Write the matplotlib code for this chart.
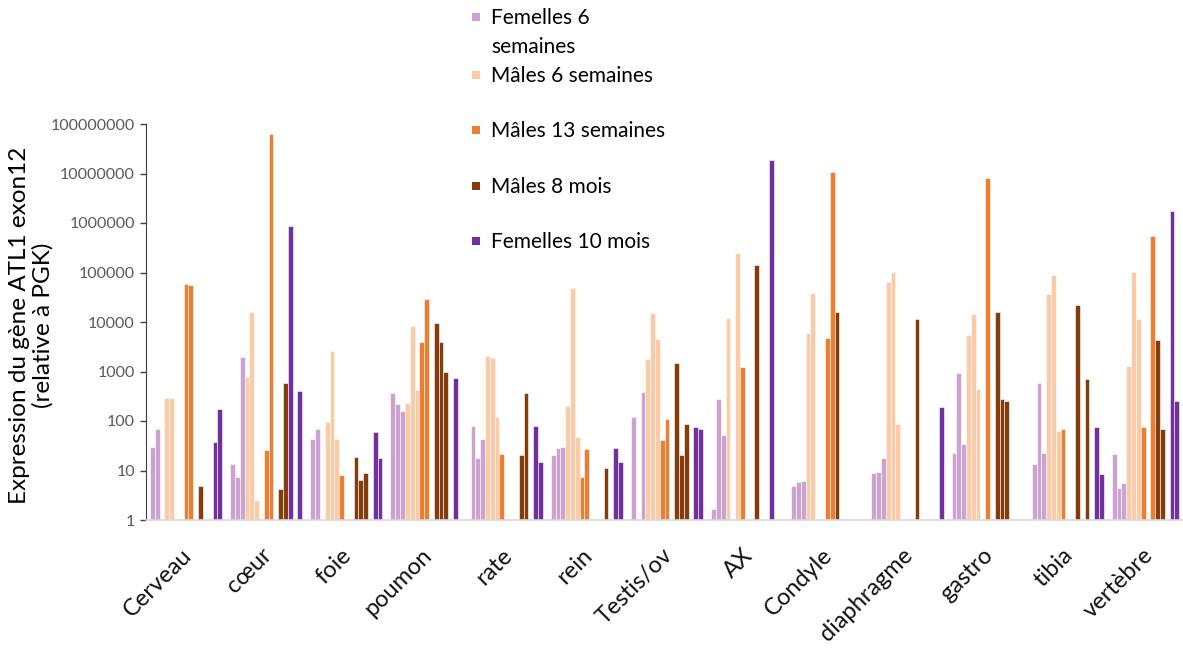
import matplotlib
matplotlib.use('Agg')
import matplotlib.pyplot as plt
import matplotlib.transforms as mtransforms
from matplotlib.patches import Rectangle
from matplotlib.ticker import NullLocator

W, H = 1183, 648

organes = ['Cerveau', 'cœur', 'foie', 'poumon', 'rate', 'rein', 'Testis/ov', 'AX',
           'Condyle', 'diaphragme', 'gastro', 'tibia', 'vertèbre']

# 3 animaux par groupe, None = pas de valeur
femelles_6s = [[30, 70, None], [13.5, 7.3, 1940], [43, 68, None], [363, 217, 162],
               [80, 17.6, 43], [21, 29, 30], [122, None, 380], [1.67, 277, 53],
               [4.9, 5.85, 6.1], [8.9, 9.3, 18], [22.6, 930, 34], [13.5, 575, 23],
               [21.6, 4.4, 5.5]]
males_6s = [[295, 295, None], [780, 15700, 2.5], [97, 2640, 43], [228, 8300, 428],
            [2050, 1900, 122], [204, 49000, 48], [1790, 15400, 4540], [12200, None, 245000],
            [6000, 38000, None], [65000, 102000, 87], [5450, 14500, 443], [37000, 89000, 62],
            [1270, 104000, 11700]]
males_13s = [[None, 59000, 56000], [None, 25.5, 62000000], [8.1, None, None], [4000, 29500, None],
             [22, None, None], [7.3, 27, None], [41, 110, None], [1230, None, None],
             [None, 4800, 10500000], [None, None, None], [None, 8000000, None], [69, None, None],
             [76, None, 553000]]
males_8m = [[None, 4.9, None], [None, 4.2, 590], [18.5, 6.4, 8.9], [9500, 4000, 1000],
            [None, 21, 363], [None, None, 11], [1490, 21, 87], [141000, None, None],
            [15700, None, None], [11300, None, None], [15700, 277, 253], [22000, None, 707],
            [4270, 69, None]]
femelles_10m = [[None, 37, 175], [850000, None, 405], [None, 59, 17.6], [None, 750, None],
                [None, 80, 15], [None, 29, 15], [None, 76, 70], [18500000, None, None],
                [None, None, None], [None, None, 192], [None, None, None], [None, 76, 8.5],
                [1740000, 253, None]]

groupes = [femelles_6s, males_6s, males_13s, males_8m, femelles_10m]
noms = [['Femelles 6', 'semaines'], ['Mâles 6 semaines'], ['Mâles 13 semaines'],
        ['Mâles 8 mois'], ['Femelles 10 mois']]
couleurs = ['#CCA3D0', '#FBCBA8', '#ED7D31', '#843C0C', '#7030A0']

plt.rcParams['font.family'] = ['Lato', 'DejaVu Sans']

fig = plt.figure(figsize=(W / 100, H / 100), dpi=100)
ax = fig.add_axes([146 / W, (H - 520) / H, 1042 / W, 396 / H])

n_slots = 15
w = 0.0600
off = (1 - n_slots * w) / 2
for g, (vals, col) in enumerate(zip(groupes, couleurs)):
    for r in range(3):
        s = 3 * g + r
        xs, hs = [], []
        for i, row in enumerate(vals):
            if row[r] is None:
                continue
            xs.append(i - 0.5 + off + (s + 0.5) * w)
            hs.append(row[r] - 1)
        ax.bar(xs, hs, bottom=1, width=w, color=col, edgecolor='white', linewidth=0.4)

ax.set_yscale('log')
ax.set_ylim(1, 1e8)
ax.set_xlim(-0.5, len(organes) - 0.5)
ax.yaxis.set_minor_locator(NullLocator())
yt = [10 ** k for k in range(9)]
ax.set_yticks(yt)
ax.set_yticklabels([str(v) for v in yt], color='#595959', fontsize=11.5)
ax.tick_params(axis='y', direction='out', length=4, width=1, color='#404040', pad=4)

ax.set_xticks(range(len(organes)))
ax.set_xticklabels(organes, rotation=45, ha='right', va='center',
                   rotation_mode='anchor', fontsize=17, color='#111111')
ax.tick_params(axis='x', length=0, pad=23)
shift = mtransforms.ScaledTranslation(2 / 100, 0, fig.dpi_scale_trans)
for lab in ax.get_xticklabels():
    lab.set_transform(lab.get_transform() + shift)

for side in ['top', 'right']:
    ax.spines[side].set_visible(False)
ax.spines['left'].set_color('#404040')
ax.spines['bottom'].set_color('#D9D9D9')
ax.spines['bottom'].set_linewidth(1.2)

fig.text(20 / W, 1 - 325 / H, 'Expression du gène ATL1 exon12', rotation=90,
         ha='center', va='center', fontsize=17.5)
fig.text(43 / W, 1 - 325 / H, '(relative à PGK)', rotation=90,
         ha='center', va='center', fontsize=17.5)

# legende faite a la main (espacement irregulier dans l'original)
ys = [17, 75, 130, 186, 241]
for (lignes, col, y) in zip(noms, couleurs, ys):
    fig.add_artist(Rectangle(((472) / W, 1 - (y + 4) / H), 8 / W, 8 / H,
                             transform=fig.transFigure, facecolor=col, edgecolor='none'))
    for k, txt in enumerate(lignes):
        fig.text(491 / W, 1 - (y + 1 + 29 * k) / H, txt, ha='left', va='center', fontsize=15)

fig.savefig('out.png', dpi=100)
